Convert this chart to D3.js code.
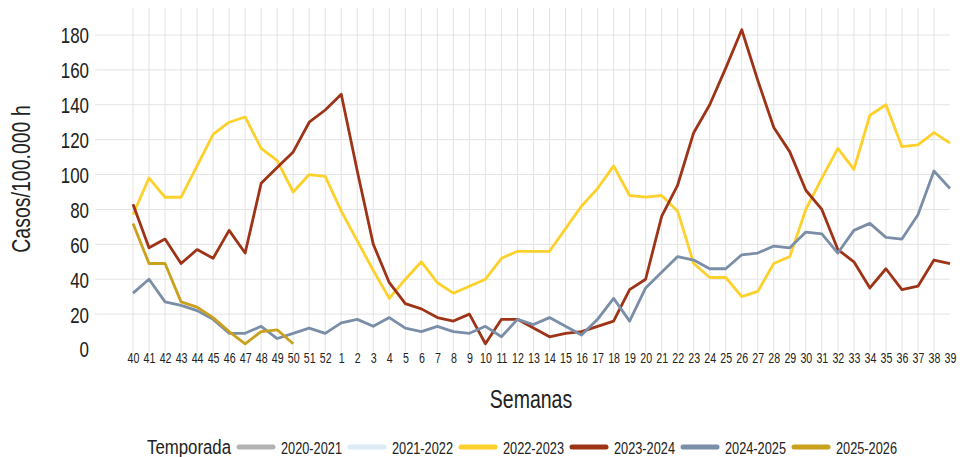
<!DOCTYPE html>
<html>
<head>
<meta charset="utf-8">
<script src="https://cdn.jsdelivr.net/npm/d3@7"></script>
<style>
  body { margin: 0; background: #fff; }
  svg text { font-family: "Liberation Sans", Arial, sans-serif; fill: #222; }
</style>
</head>
<body>
<div id="chart"></div>
<script>
// weeks of the season, 40 -> 52 then 1 -> 39
const weeks = ["40","41","42","43","44","45","46","47","48","49","50","51","52",
  "1","2","3","4","5","6","7","8","9","10","11","12","13","14","15","16","17","18","19",
  "20","21","22","23","24","25","26","27","28","29","30","31","32","33","34","35","36","37","38","39"]

const yTicks = [0, 20, 40, 60, 80, 100, 120, 140, 160, 180]

const seasons = ["2020-2021", "2021-2022", "2022-2023", "2023-2024", "2024-2025", "2025-2026"]
const colors = ["#b3b3b3", "#dcebf6", "#fdd12c", "#9e3417", "#7b8ea8", "#c9a11d"]

// no values shown for the first two seasons
const s2020 = []
const s2021 = []
const s2022 = [77, 98, 87, 87, 105, 123, 130, 133, 115, 108, 90, 100,
  99, 79, 62, 45, 29, 40, 50, 38, 32, 36, 40, 52, 56, 56, 56, 69, 82, 92, 105, 88,
  87, 88, 79, 49, 41, 41, 30, 33, 49, 53, 80, 98, 115, 103, 134, 140, 116, 117, 124, 118]
const s2023 = [83, 58, 63, 49, 57, 52, 68, 55, 95, 104, 113, 130,
  137, 146, 102, 60, 38, 26, 23, 18, 16, 20, 3, 17, 17, 12, 7, 9, 10, 13, 16, 34,
  40, 76, 94, 124, 140, 161, 183, 154, 127, 113, 91, 80, 57, 50, 35, 46, 34, 36, 51, 49]
const s2024 = [32, 40, 27, 25, 22, 17, 9, 9, 13, 6, 9, 12,
  9, 15, 17, 13, 18, 12, 10, 13, 10, 9, 13, 7, 17, 14, 18, 13, 8, 17, 29, 16,
  35, 44, 53, 51, 46, 46, 54, 55, 59, 58, 67, 66, 55, 68, 72, 64, 63, 77, 102, 92]
const s2025 = [72, 49, 49, 27, 24, 18, 10, 3, 10, 11, 3]

const seriesValues = [s2020, s2021, s2022, s2023, s2024, s2025]

const width = 960
const height = 457

// squeeze text horizontally, the source uses a narrow face
function narrow(sel, k) {
  sel.each(function() {
    const len = this.getComputedTextLength()
    d3.select(this)
      .attr("textLength", len * k)
      .attr("lengthAdjust", "spacingAndGlyphs")
  })
}

const svg = d3.select("#chart")
  .append("svg")
  .attr("width", width)
  .attr("height", height)

const x = d3.scalePoint()
  .domain(weeks)
  .range([133, 950])

const y = d3.scaleLinear()
  .domain([0, 180])
  .range([349, 35])

// vertical grid, one line per week
svg.append("g")
  .selectAll("line")
  .data(weeks.slice(0, -1))
  .enter().append("line")
  .attr("x1", d => x(d))
  .attr("x2", d => x(d))
  .attr("y1", 8)
  .attr("y2", 352)
  .attr("stroke", "#e3e3e3")
  .attr("stroke-width", 1)

// horizontal grid
svg.append("g")
  .selectAll("line")
  .data(yTicks.filter(d => d > 0))
  .enter().append("line")
  .attr("x1", 95)
  .attr("x2", 950)
  .attr("y1", d => y(d))
  .attr("y2", d => y(d))
  .attr("stroke", "#e3e3e3")
  .attr("stroke-width", 1)

// y axis labels
const yAxis = d3.axisLeft(y).tickValues(yTicks).tickSize(0).tickPadding(0)
const gy = svg.append("g")
  .attr("transform", "translate(89,0)")
  .call(yAxis)
gy.attr("font-family", null).attr("font-size", null)
gy.select(".domain").remove()
gy.selectAll("text")
  .style("font-size", "22px")
  .attr("fill", "#222")
  .attr("dy", "0.36em")
  .call(narrow, 0.77)

// x axis labels
const xAxis = d3.axisBottom(x).tickSize(0).tickPadding(0)
const gx = svg.append("g")
  .attr("transform", "translate(0,352)")
  .call(xAxis)
gx.attr("font-family", null).attr("font-size", null)
gx.select(".domain").remove()
gx.selectAll("text")
  .style("font-size", "14px")
  .attr("dy", "0.72em")
  .attr("y", 1)
  .attr("fill", d => d == "52" ? "#8a8a8a" : "#222")
  .call(narrow, 0.76)

// lines
const line = d3.line()
  .defined(d => d != null)
  .x((d, i) => x(weeks[i]))
  .y(d => y(d))

svg.append("g")
  .selectAll("path")
  .data(seriesValues)
  .enter().append("path")
  .attr("d", d => line(d))
  .attr("fill", "none")
  .attr("stroke", (d, i) => colors[i])
  .attr("stroke-width", 2.8)
  .attr("stroke-linejoin", "round")

// axis titles
svg.append("text")
  .attr("transform", "translate(30,179) rotate(-90)")
  .attr("text-anchor", "middle")
  .style("font-size", "25px")
  .text("Casos/100.000 h")
  .call(narrow, 0.78)

svg.append("text")
  .attr("x", 531)
  .attr("y", 408)
  .attr("text-anchor", "middle")
  .style("font-size", "25px")
  .text("Semanas")
  .call(narrow, 0.78)

// legend
const legend = svg.append("g").attr("transform", "translate(147,454)")
legend.append("text")
  .attr("x", 0)
  .attr("y", 0)
  .style("font-size", "20px")
  .text("Temporada")
  .call(narrow, 0.84)

let lx = 90
seasons.forEach(function(s, i) {
  legend.append("line")
    .attr("x1", lx + 2)
    .attr("x2", lx + 36)
    .attr("y1", -7)
    .attr("y2", -7)
    .attr("stroke", colors[i])
    .attr("stroke-width", 5)
    .attr("stroke-linecap", "round")
  legend.append("text")
    .attr("x", lx + 44)
    .attr("y", 0)
    .style("font-size", "17px")
    .text(s)
    .call(narrow, 0.75)
  lx += 111
})
</script>
</body>
</html>
